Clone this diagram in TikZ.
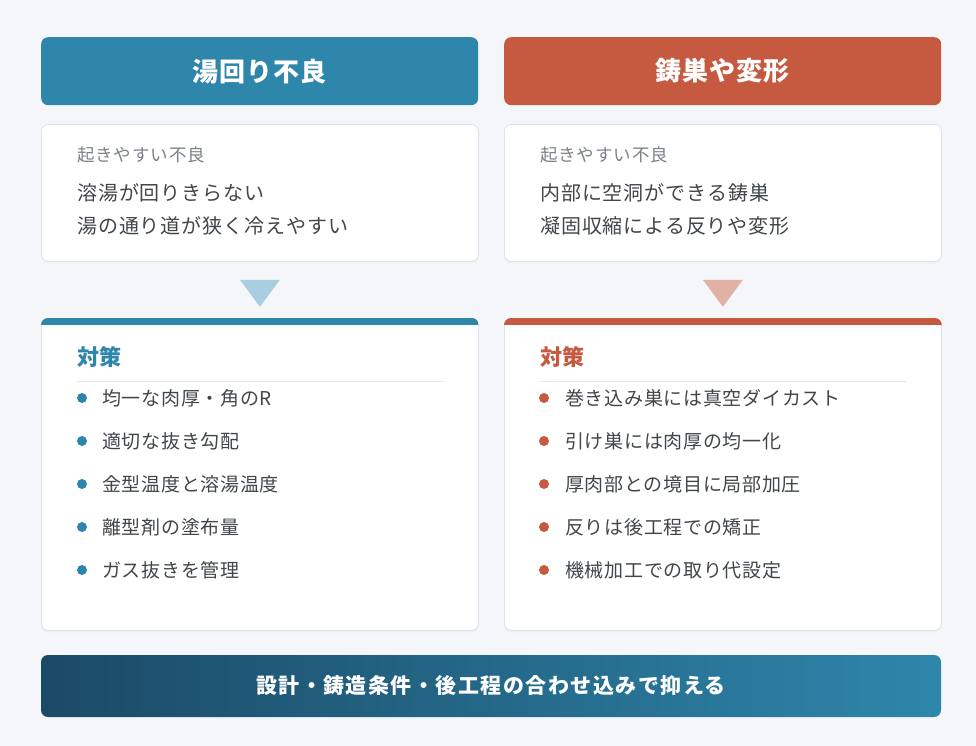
\documentclass[tikz,border=0pt]{standalone}
\usepackage{fontspec}
\setmainfont{Noto Sans CJK JP}
\usetikzlibrary{calc,shadows}
\definecolor{pagebg}{HTML}{F4F6FA}
\definecolor{flowblue}{HTML}{2E86AB}
\definecolor{flowred}{HTML}{C65A40}
\definecolor{triblue}{HTML}{A9CEE1}
\definecolor{trired}{HTML}{E1B1A6}
\definecolor{cardline}{HTML}{DCE3EB}
\definecolor{rulegray}{HTML}{E3E8EE}
\definecolor{labelgray}{HTML}{7B8088}
\definecolor{bodytext}{HTML}{41464B}
\definecolor{bannerdark}{HTML}{1B4A66}
\tikzset{
    header/.style={rounded corners=7pt,minimum width=437pt,minimum height=68pt,
        anchor=north west,text=white,
        font=\fontsize{26}{30}\selectfont\bfseries\addfontfeature{LetterSpace=4}},
    card/.style={rounded corners=7pt,draw=cardline,fill=white,line width=0.8pt,
        anchor=north west,minimum width=437pt,
        drop shadow={opacity=0.06,shadow xshift=0pt,shadow yshift=-2pt}},
    label/.style={anchor=west,inner sep=0pt,text=labelgray,
        font=\fontsize{17.5}{20}\selectfont\addfontfeature{LetterSpace=5}},
    body/.style={anchor=west,inner sep=0pt,text=bodytext,
        font=\fontsize{20}{24}\selectfont\addfontfeature{LetterSpace=4.6}},
    title/.style={anchor=west,inner sep=0pt,font=\fontsize{22}{26}\selectfont\bfseries},
    item/.style={anchor=west,inner sep=0pt,text=bodytext,
        font=\fontsize{19}{22}\selectfont\addfontfeature{LetterSpace=3.8}},
    dot/.style={circle,inner sep=0pt,minimum size=10pt},
}

\begin{document}
\begin{tikzpicture}[x=1pt,y=-1pt]
    \fill[pagebg] (0,0) rectangle (976,746);
    \useasboundingbox (0,0) rectangle (976,746);

    % headers
    \node[header,fill=flowblue] (headL) at (41,37) {湯回り不良};
    \node[header,fill=flowred] (headR) at (504,37) {鋳巣や変形};

    % problem cards
    \node[card,minimum height=137pt] (probL) at (41,124) {};
    \node[card,minimum height=137pt] (probR) at (504,124) {};
    \node[label] (probLlab) at (77,155) {起きやすい不良};
    \node[body] (probL1) at (77,193) {溶湯が回りきらない};
    \node[body] (probL2) at (77,226) {湯の通り道が狭く冷えやすい};
    \node[label] (probRlab) at (540,155) {起きやすい不良};
    \node[body] (probR1) at (540,193) {内部に空洞ができる鋳巣};
    \node[body] (probR2) at (540,226) {凝固収縮による反りや変形};

    % measure cards
    \node[card,minimum height=312pt] (fixL) at (41,318) {};
    \node[card,minimum height=312pt] (fixR) at (504,318) {};
    \begin{scope}
        \clip[rounded corners=7pt] (fixL.north west) rectangle (fixL.south east);
        \fill[flowblue] (fixL.north west) rectangle ($(fixL.north east)+(0,7)$);
    \end{scope}
    \begin{scope}
        \clip[rounded corners=7pt] (fixR.north west) rectangle (fixR.south east);
        \fill[flowred] (fixR.north west) rectangle ($(fixR.north east)+(0,7)$);
    \end{scope}

    % arrows between cards
    \fill[triblue] ($(probL.south)+(-20,18)$) -- ($(probL.south)+(20,18)$) -- ($(probL.south)+(0,45)$) -- cycle;
    \fill[trired] ($(probR.south)+(-20,18)$) -- ($(probR.south)+(20,18)$) -- ($(probR.south)+(0,45)$) -- cycle;

    % left measures
    \node[title,text=flowblue] (fixLtitle) at (77,357) {対策};
    \draw[rulegray,line width=1pt] (77,381) -- (444,381);
    \node[dot,fill=flowblue] (dL1) at (82,398) {};
    \node[dot,fill=flowblue] (dL2) at (82,441) {};
    \node[dot,fill=flowblue] (dL3) at (82,484) {};
    \node[dot,fill=flowblue] (dL4) at (82,527) {};
    \node[dot,fill=flowblue] (dL5) at (82,570) {};
    \node[item] (fixL1) at (102,398) {均一な肉厚・角のR};
    \node[item] (fixL2) at (102,441) {適切な抜き勾配};
    \node[item] (fixL3) at (102,484) {金型温度と溶湯温度};
    \node[item] (fixL4) at (102,527) {離型剤の塗布量};
    \node[item] (fixL5) at (102,570) {ガス抜きを管理};

    % right measures
    \node[title,text=flowred] (fixRtitle) at (540,357) {対策};
    \draw[rulegray,line width=1pt] (540,381) -- (906,381);
    \node[dot,fill=flowred] (dR1) at (544,398) {};
    \node[dot,fill=flowred] (dR2) at (544,441) {};
    \node[dot,fill=flowred] (dR3) at (544,484) {};
    \node[dot,fill=flowred] (dR4) at (544,527) {};
    \node[dot,fill=flowred] (dR5) at (544,570) {};
    \node[item] (fixR1) at (565,398) {巻き込み巣には真空ダイカスト};
    \node[item] (fixR2) at (565,441) {引け巣には肉厚の均一化};
    \node[item] (fixR3) at (565,484) {厚肉部との境目に局部加圧};
    \node[item] (fixR4) at (565,527) {反りは後工程での矯正};
    \node[item] (fixR5) at (565,570) {機械加工での取り代設定};

    % summary banner
    \shade[rounded corners=7pt,left color=bannerdark,right color=flowblue]
        (41,655) rectangle (941,717);
    \node[text=white,font=\fontsize{21}{24}\selectfont\bfseries\addfontfeature{LetterSpace=7}] (summary) at (491,686)
        {設計・鋳造条件・後工程の合わせ込みで抑える};
\end{tikzpicture}
\end{document}
